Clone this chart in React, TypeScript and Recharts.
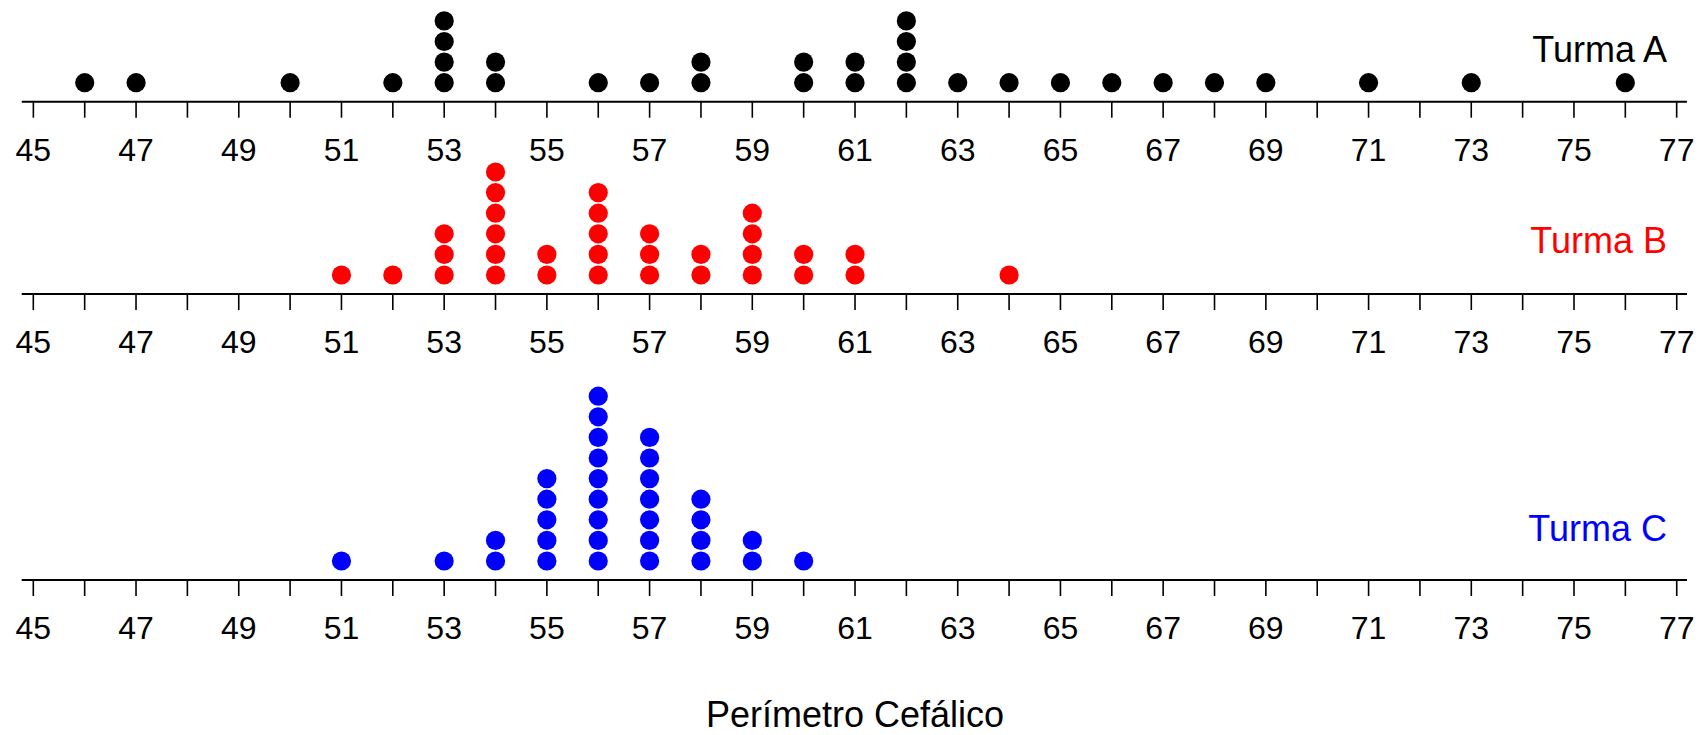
import { Scatter, ScatterChart, XAxis, YAxis } from "recharts";

const turmaAValues = [46, 47, 50, 52, 53, 54, 56, 57, 58, 60, 61, 62, 63, 64, 65, 66, 67, 68, 69, 71, 73, 76];
const turmaACounts = [1, 1, 1, 1, 4, 2, 1, 1, 2, 2, 2, 4, 1, 1, 1, 1, 1, 1, 1, 1, 1, 1];

const turmaBValues = [51, 52, 53, 54, 55, 56, 57, 58, 59, 60, 61, 64];
const turmaBCounts = [1, 1, 3, 6, 2, 5, 3, 2, 4, 2, 2, 1];

const turmaCValues = [51, 53, 54, 55, 56, 57, 58, 59, 60];
const turmaCCounts = [1, 1, 2, 5, 9, 7, 4, 2, 1];

const axisTicks = [
  45, 46, 47, 48, 49, 50, 51, 52, 53, 54, 55, 56, 57, 58, 59, 60, 61, 62, 63, 64, 65, 66, 67, 68, 69, 70, 71, 72,
  73, 74, 75, 76, 77,
];

const FONT = "'Liberation Sans', Arial, sans-serif";
const WIDTH = 1706;
const ROW_PX = 20.6;
const FIRST_ROW_PX = 19;

function stackPoints(values: number[], counts: number[]) {
  return values.flatMap((value, i) =>
    Array.from({ length: counts[i] }, (_, k) => ({ x: value, y: k + 1 }))
  );
}

function OddTick({ x, y, payload }: { x: number; y: number; payload: { value: number } }) {
  if (payload.value % 2 === 0) return <g />;
  return (
    <text x={x} y={y} dy={43} textAnchor="middle" fill="#000" fontSize={32} fontFamily={FONT}>
      {payload.value}
    </text>
  );
}

function DotPanel({
  values,
  counts,
  color,
  top,
  axisY,
}: {
  values: number[];
  counts: number[];
  color: string;
  top: number;
  axisY: number;
}) {
  const plotHeight = axisY - top;
  const yMin = 1 - FIRST_ROW_PX / ROW_PX;
  const data = stackPoints(values, counts);

  return (
    <div style={{ position: "absolute", left: 0, top }}>
      <ScatterChart
        width={WIDTH}
        height={plotHeight + 70}
        margin={{ top: 0, right: 19, bottom: 0, left: 21.7 }}
      >
        <XAxis
          type="number"
          dataKey="x"
          domain={[44.774, 77.2]}
          allowDataOverflow
          ticks={axisTicks}
          interval={0}
          height={70}
          tickSize={16}
          tickMargin={0}
          axisLine={{ stroke: "#000", strokeWidth: 2 }}
          tickLine={{ stroke: "#000", strokeWidth: 1.6 }}
          tick={OddTick}
        />
        <YAxis
          type="number"
          dataKey="y"
          hide
          domain={[yMin, yMin + plotHeight / ROW_PX]}
          allowDataOverflow
        />
        <Scatter
          data={data}
          fill={color}
          isAnimationActive={false}
          shape={(props: { cx?: number; cy?: number }) => (
            <circle cx={props.cx} cy={props.cy} r={9.6} fill={color} />
          )}
        />
      </ScatterChart>
    </div>
  );
}

export default function App() {
  return (
    <div style={{ position: "absolute", left: 0, top: 0, width: WIDTH, height: 735, background: "#fff" }}>
      <DotPanel values={turmaAValues} counts={turmaACounts} color="#000000" top={0} axisY={101.7} />
      <DotPanel values={turmaBValues} counts={turmaBCounts} color="#FF0000" top={160} axisY={294} />
      <DotPanel values={turmaCValues} counts={turmaCCounts} color="#0000FF" top={360} axisY={580} />
      <svg
        width={WIDTH}
        height={735}
        style={{ position: "absolute", left: 0, top: 0, pointerEvents: "none" }}
        fontFamily={FONT}
      >
        <text x={1667} y={61.7} textAnchor="end" fontSize={36} fill="#000000">
          Turma A
        </text>
        <text x={1667} y={252.7} textAnchor="end" fontSize={36} fill="#FF0000">
          Turma B
        </text>
        <text x={1667} y={540.7} textAnchor="end" fontSize={36} fill="#0000FF">
          Turma C
        </text>
        <text x={855} y={727} textAnchor="middle" fontSize={36} fill="#000000">
          Perímetro Cefálico
        </text>
      </svg>
    </div>
  );
}
